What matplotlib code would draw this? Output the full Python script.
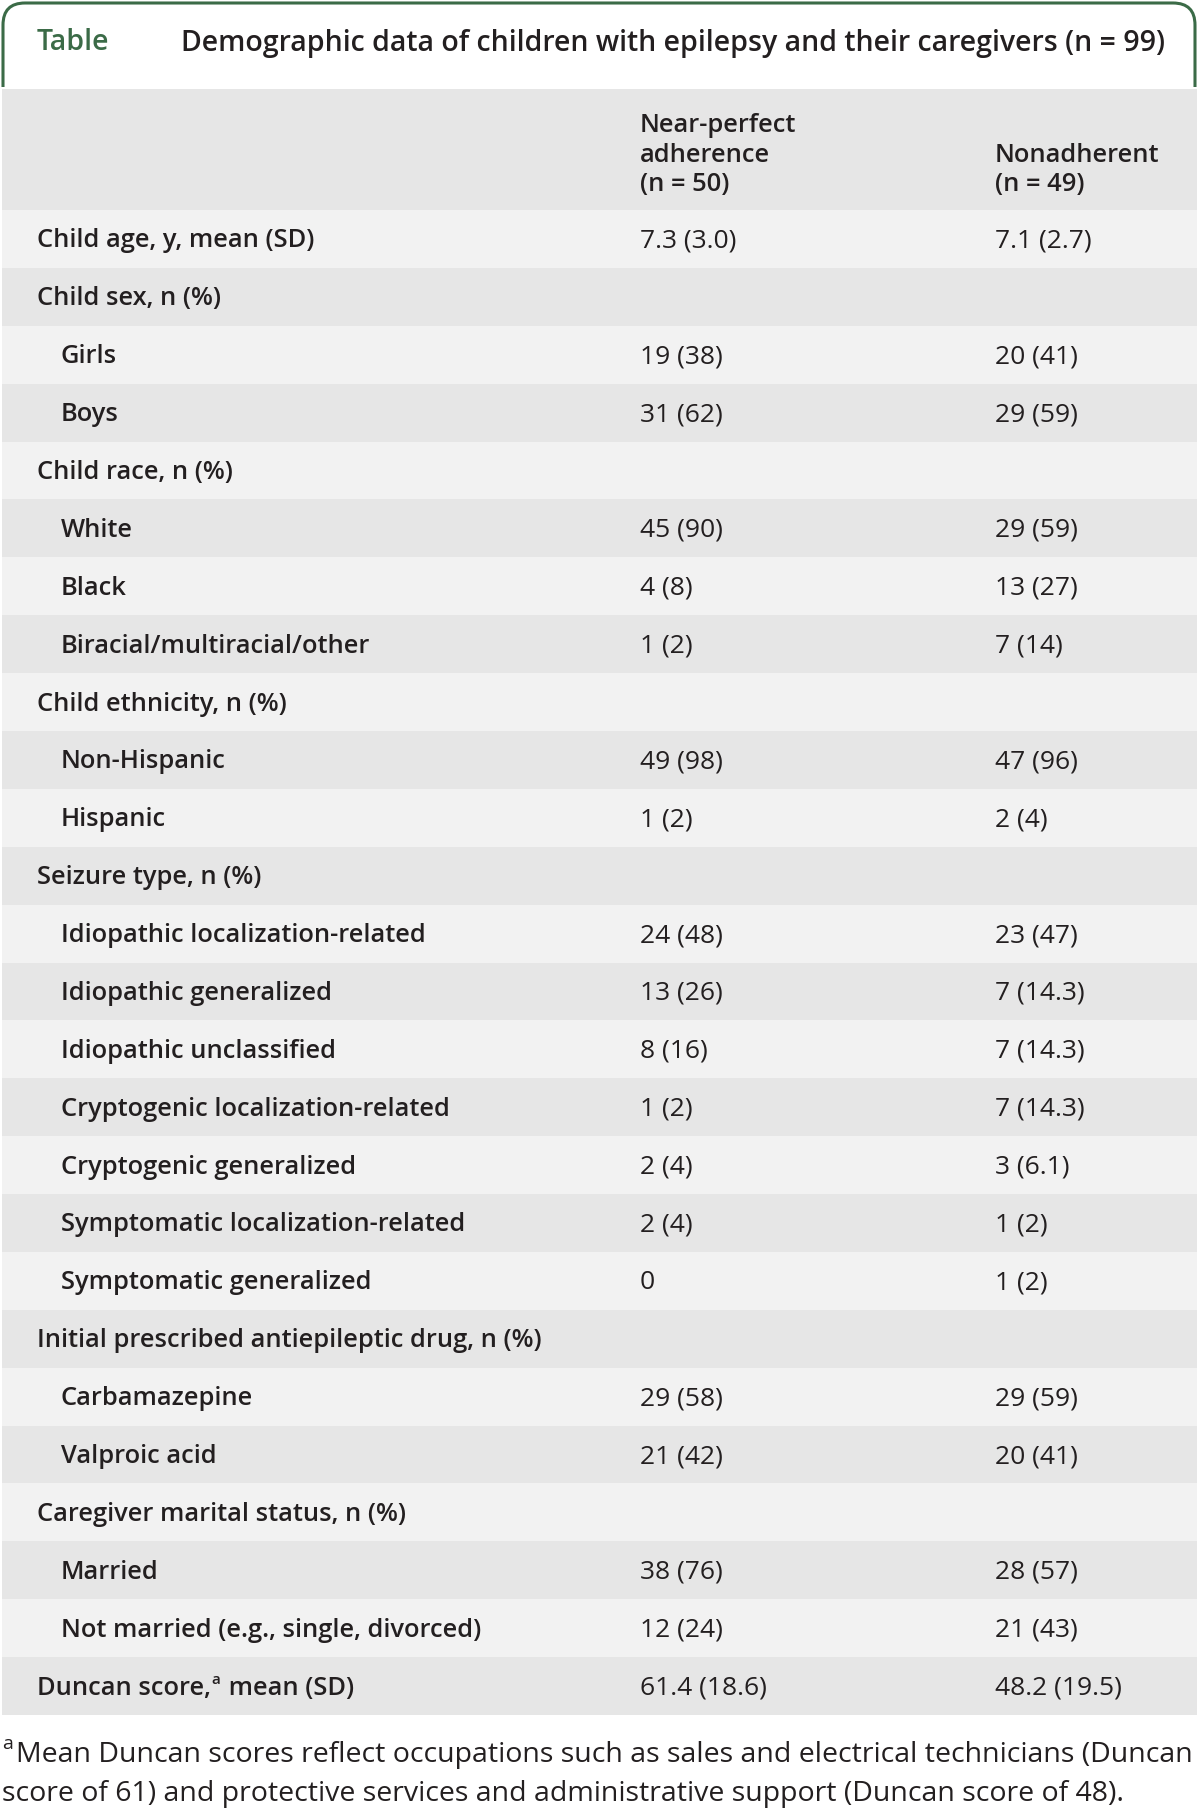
import matplotlib.pyplot as plt
from matplotlib.patches import Rectangle, FancyBboxPatch
from matplotlib import font_manager


# table content
title_tag = "Table"
title = "Demographic data of children with epilepsy and their caregivers (n = 99)"
col_heads = [["Near-perfect", "adherence", "(n = 50)"], ["Nonadherent", "(n = 49)"]]

labels = [
    "Child age, y, mean (SD)", "Child sex, n (%)", "Girls", "Boys",
    "Child race, n (%)", "White", "Black", "Biracial/multiracial/other",
    "Child ethnicity, n (%)", "Non-Hispanic", "Hispanic",
    "Seizure type, n (%)", "Idiopathic localization-related",
    "Idiopathic generalized", "Idiopathic unclassified",
    "Cryptogenic localization-related", "Cryptogenic generalized",
    "Symptomatic localization-related", "Symptomatic generalized",
    "Initial prescribed antiepileptic drug, n (%)", "Carbamazepine",
    "Valproic acid", "Caregiver marital status, n (%)", "Married",
    "Not married (e.g., single, divorced)", "Duncan score,",
]
indent = [0, 0, 1, 1, 0, 1, 1, 1, 0, 1, 1, 0, 1, 1, 1, 1, 1, 1, 1, 0, 1, 1, 0, 1, 1, 0]
near_perfect = [
    "7.3 (3.0)", "", "19 (38)", "31 (62)", "", "45 (90)", "4 (8)", "1 (2)",
    "", "49 (98)", "1 (2)", "", "24 (48)", "13 (26)", "8 (16)", "1 (2)",
    "2 (4)", "2 (4)", "0", "", "29 (58)", "21 (42)", "", "38 (76)",
    "12 (24)", "61.4 (18.6)",
]
nonadherent = [
    "7.1 (2.7)", "", "20 (41)", "29 (59)", "", "29 (59)", "13 (27)", "7 (14)",
    "", "47 (96)", "2 (4)", "", "23 (47)", "7 (14.3)", "7 (14.3)", "7 (14.3)",
    "3 (6.1)", "1 (2)", "1 (2)", "", "29 (59)", "20 (41)", "", "28 (57)",
    "21 (43)", "48.2 (19.5)",
]
footnote = ["Mean Duncan scores reflect occupations such as sales and electrical technicians (Duncan",
            "score of 61) and protective services and administrative support (Duncan score of 48)."]

GREEN = "#3b6b47"
INK = "#231f20"
LIGHT = "#f2f2f2"
DARK = "#e6e6e6"

avail = {f.name for f in font_manager.fontManager.ttflist}
FONT = "Open Sans" if "Open Sans" in avail else "DejaVu Sans"
LAB = 18.4
VAL = 19

W, H = 1200, 1812
fig = plt.figure(figsize=(W / 100, H / 100), dpi=100)
ax = fig.add_axes([0, 0, 1, 1])
ax.set_xlim(0, W)
ax.set_ylim(H, 0)
ax.axis("off")
rend = fig.canvas.get_renderer()


def right_edge(t):
    return t.get_window_extent(rend).transformed(ax.transData.inverted()).x1


# title tab with rounded top corners
tab = FancyBboxPatch((3, 3), 1192, 200, boxstyle="round,pad=0,rounding_size=22",
                     fc="none", ec=GREEN, lw=2.2)
ax.add_patch(tab)
tab.set_clip_path(Rectangle((0, 0), W, 87, transform=ax.transData))

ax.text(37, 43, title_tag, color=GREEN, fontsize=20.5, fontweight="semibold",
        family=FONT, va="center")
ax.text(181, 43, title, color=INK, fontsize=20.5, fontweight="semibold",
        family=FONT, va="center")

# header band
head_top, head_bot = 89, 210
ax.add_patch(Rectangle((2, head_top), 1195, head_bot - head_top, fc=DARK, ec="none"))
col_x = [640, 995]
for x, lines in zip(col_x, col_heads):
    for k, line in enumerate(reversed(lines)):
        ax.text(x, 191 - k * 29.5, line, color=INK, fontsize=LAB, fontweight="semibold",
                family=FONT, va="baseline", ha="left")

# body rows
row_h = (1715 - head_bot) / len(labels)
for i, lab in enumerate(labels):
    y0 = head_bot + i * row_h
    ax.add_patch(Rectangle((2, y0), 1195, row_h, fc=DARK if i % 2 else LIGHT, ec="none"))
    yb = y0 + row_h / 2 + 8.5
    t = ax.text(61 if indent[i] else 37, yb, lab, color=INK, fontsize=LAB,
                fontweight="semibold", family=FONT, va="baseline")
    if lab.startswith("Duncan"):
        x1 = right_edge(t)
        s = ax.text(x1 + 1, yb - 11, "a", color=INK, fontsize=11,
                    fontweight="semibold", family=FONT, va="baseline")
        ax.text(right_edge(s) + 1, yb, " mean (SD)", color=INK, fontsize=LAB,
                fontweight="semibold", family=FONT, va="baseline")
    ax.text(col_x[0], yb, near_perfect[i], color=INK, fontsize=VAL,
            family=FONT, va="baseline")
    ax.text(col_x[1], yb, nonadherent[i], color=INK, fontsize=VAL,
            family=FONT, va="baseline")

# footnote, sized so the first line spans the width as in the original
sup = ax.text(2, 1744, "a", color=INK, fontsize=14, family=FONT, va="center")
x0 = right_edge(sup) + 3
f1 = ax.text(x0, 1755, footnote[0], color=INK, fontsize=20,
             family=FONT, va="center")
fs = 20 * (1190 - x0) / (right_edge(f1) - x0)
f1.set_fontsize(fs)
ax.text(2, 1794, footnote[1], color=INK, fontsize=fs, family=FONT, va="center")

fig.savefig("out.png", dpi=100, facecolor="white")
